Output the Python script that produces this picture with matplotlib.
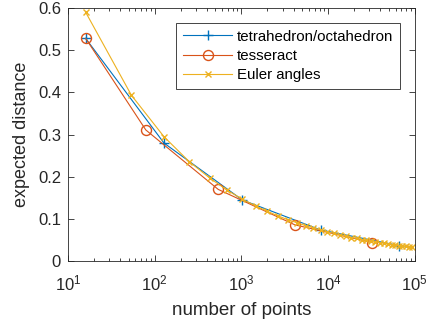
import matplotlib.pyplot as plt
from matplotlib.ticker import LogLocator, NullFormatter

plt.rcParams['font.family'] = ['Liberation Sans', 'DejaVu Sans']
plt.rcParams['mathtext.fontset'] = 'custom'
plt.rcParams['mathtext.rm'] = 'Liberation Sans'
plt.rcParams['mathtext.it'] = 'Liberation Sans:italic'
plt.rcParams['mathtext.bf'] = 'Liberation Sans:bold'

# tetrahedron/octahedron
n_tetra = [16, 128, 1024, 8192, 65536]
d_tetra = [0.528, 0.280, 0.145, 0.074, 0.037]

# tesseract
n_tess = [16, 79, 541, 4140, 32300]
d_tess = [0.528, 0.311, 0.170, 0.086, 0.044]

# Euler angles
n_euler = [16, 54, 128, 250, 432, 686, 1024, 1458, 2000, 2662, 3456, 4394,
           5488, 6750, 8192, 9826, 11664, 13718, 16000, 18522, 21296, 24334,
           27648, 31250, 35152, 39366, 43904, 48778, 54000, 59582, 65536,
           71874, 78608, 85750, 93312]
d_euler = [0.590, 0.393, 0.295, 0.236, 0.197, 0.168, 0.147, 0.131, 0.118,
           0.107, 0.098, 0.091, 0.084, 0.079, 0.074, 0.069, 0.066, 0.062,
           0.059, 0.056, 0.054, 0.051, 0.049, 0.047, 0.045, 0.044, 0.042,
           0.041, 0.039, 0.038, 0.037, 0.036, 0.035, 0.034, 0.033]

fig = plt.figure(figsize=(4.33, 3.22), dpi=100)
ax = fig.add_axes([0.157, 0.189, 0.801, 0.786])

ax.plot(n_tetra, d_tetra, color='#0072BD', marker='+', markersize=7.5, lw=0.8,
        label='tetrahedron/octahedron')
ax.plot(n_tess, d_tess, color='#D95319', marker='o', markersize=7.2, lw=0.8,
        markerfacecolor='none', label='tesseract')
ax.plot(n_euler, d_euler, color='#EDB120', marker='x', markersize=5, lw=0.8,
        label='Euler angles')

ax.set_xscale('log')
ax.set_xlim(10, 1e5)
ax.set_ylim(0, 0.6)
ax.set_yticks([0, 0.1, 0.2, 0.3, 0.4, 0.5, 0.6])
ax.set_yticklabels(['0', '0.1', '0.2', '0.3', '0.4', '0.5', '0.6'])
ax.xaxis.set_minor_locator(LogLocator(base=10, subs=range(2, 10), numticks=20))
ax.xaxis.set_minor_formatter(NullFormatter())

ax.tick_params(which='both', direction='in', top=True, right=True,
               labelsize=12, colors='#262626', width=0.6)
ax.tick_params(which='major', length=4)
ax.tick_params(which='minor', length=2.5)
ax.tick_params(axis='y', pad=5)
ax.tick_params(axis='x', pad=9)
for s in ax.spines.values():
    s.set_color('#262626')
    s.set_linewidth(0.6)

ax.set_xlabel('number of points', fontsize=13.5, color='#262626', labelpad=6)
ax.set_ylabel('expected distance', fontsize=13, color='#262626', labelpad=6)

leg = ax.legend(loc='upper right', bbox_to_anchor=(0.957, 0.941), fontsize=10.8,
                fancybox=False, framealpha=1, edgecolor='#262626',
                handlelength=3.3, borderpad=0.45, labelspacing=0.35,
                handletextpad=0.3, borderaxespad=0)
leg.get_frame().set_linewidth(0.6)

fig.savefig('out.png', dpi=100)
